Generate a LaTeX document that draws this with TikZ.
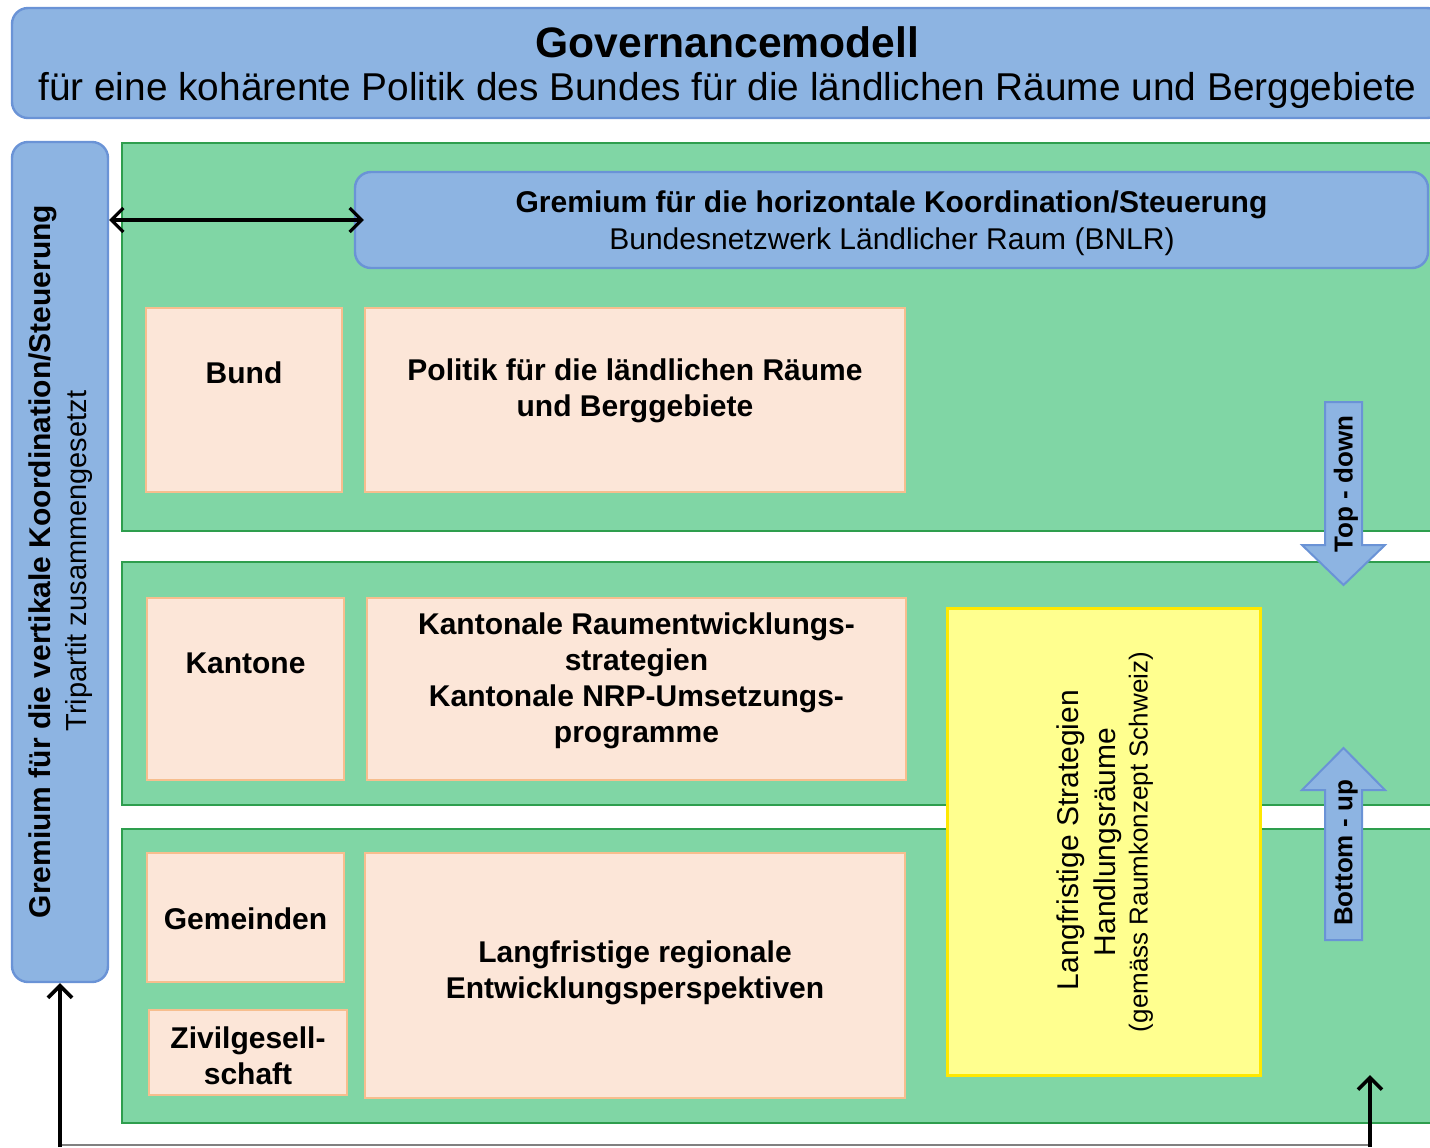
\documentclass[tikz,border=0pt]{standalone}
\usepackage{fontspec}
\setmainfont{Liberation Sans}
\usetikzlibrary{arrows.meta}
\definecolor{govblue}{HTML}{8DB4E2}
\definecolor{blueline}{HTML}{6A93D6}
\definecolor{bandgreen}{HTML}{80D6A5}
\definecolor{greenline}{HTML}{2E9E4E}
\definecolor{peachfill}{HTML}{FCE6D8}
\definecolor{peachline}{HTML}{F7BE8E}
\definecolor{yellowfill}{HTML}{FFFF8F}
\definecolor{yellowline}{HTML}{FFE800}
\begin{document}
\begin{tikzpicture}[x=0.5pt,y=-0.5pt,
  every node/.style={inner sep=0pt},
  bluebox/.style={draw=blueline, fill=govblue, line width=1.2pt, rounded corners=8pt},
  band/.style={draw=greenline, fill=bandgreen, line width=1pt},
  peach/.style={draw=peachline, fill=peachfill, line width=1.2pt},
  yellowbox/.style={draw=yellowline, fill=yellowfill, line width=1.5pt},
  bt/.style={font=\fontsize{15}{18}\selectfont\bfseries, align=center},
  rt/.style={font=\fontsize{15}{18}\selectfont, align=center},
  link/.style={-{Straight Barb[length=6pt,width=12pt,line width=1.8pt]}, line width=1.8pt},
  dbl/.style={{Straight Barb[length=6pt,width=12pt,line width=1.6pt]}-{Straight Barb[length=6pt,width=12pt,line width=1.6pt]}, line width=1.6pt}]
\useasboundingbox (0,0) rectangle (1430,1147);
\clip (0,0) rectangle (1430,1147);
\node[bluebox, minimum width=715.5pt, minimum height=55pt] (head) at (727.5,63) {};
\node[font=\fontsize{21.3}{24}\selectfont\bfseries] (headtitle) at (727.5,42) {Governancemodell};
\node[font=\fontsize{19.4}{22}\selectfont] (headsub) at (727.5,90) {für eine kohärente Politik des Bundes für die ländlichen Räume und Berggebiete};
\node[band, minimum width=661.5pt, minimum height=194pt] (bandbund) at (783.5,337) {};
\node[band, minimum width=661.5pt, minimum height=121.5pt] (bandkanton) at (783.5,683.5) {};
\node[band, minimum width=661.5pt, minimum height=147pt] (bandgemeinde) at (783.5,976) {};
\node[bluebox, minimum width=48pt, minimum height=420pt] (vert) at (60,562) {};
\node[bt, rotate=90] (verttitle) at (43,561.5) {Gremium für die vertikale Koordination/Steuerung};
\node[font=\fontsize{14.5}{17}\selectfont, rotate=90] (vertsub) at (79,561) {Tripartit zusammengesetzt};
\node[bluebox, minimum width=536.5pt, minimum height=48pt] (horiz) at (891.5,220) {};
\node[bt] (horiztitle) at (891.5,205) {Gremium für die horizontale Koordination/Steuerung};
\node[rt] (horizsub) at (892,242) {Bundesnetzwerk Ländlicher Raum (BNLR)};
\draw[dbl, shorten >=-5pt] (vert.east |- horiz.west) -- (horiz.west);
\node[peach, minimum width=98pt, minimum height=92pt] (bund) at (244,400) {};
\node[bt] (bundlbl) at (244,373) {Bund};
\node[peach, minimum width=270pt, minimum height=92pt] (politik) at (635,400) {};
\node[bt] (politiklbl) at (635,391) {Politik für die ländlichen Räume\\und Berggebiete};
\node[peach, minimum width=98.5pt, minimum height=91pt] (kantone) at (245.5,689) {};
\node[bt] (kantonelbl) at (245.5,663) {Kantone};
\node[peach, minimum width=269.5pt, minimum height=91pt] (kantonal) at (636.5,689) {};
\node[bt] (kantonallbl) at (636.5,681) {Kantonale Raumentwicklungs-\\strategien\\Kantonale NRP-Umsetzungs-\\programme};
\node[peach, minimum width=98.5pt, minimum height=64.5pt] (gemeinden) at (245.5,917.5) {};
\node[bt] (gemeindenlbl) at (245.5,919) {Gemeinden};
\node[peach, minimum width=99pt, minimum height=42.5pt] (zivil) at (248,1052.5) {};
\node[bt] (zivillbl) at (248,1056) {Zivilgesell-\\schaft};
\node[peach, minimum width=270pt, minimum height=122.5pt] (regional) at (635,975.5) {};
\node[bt] (regionallbl) at (635,973) {Langfristige regionale\\Entwicklungsperspektiven};
\node[yellowbox, minimum width=156.5pt, minimum height=233.5pt] (raeume) at (1103.5,841.5) {};
\node[rt, rotate=90] (raeumelbl) at (1071,840) {Langfristige Strategien};
\node[rt, rotate=90] (raeumesub) at (1108,842) {Handlungsräume};
\node[font=\fontsize{13}{15}\selectfont, rotate=90] (raeumenote) at (1141,842) {(gemäss Raumkonzept Schweiz)};
\draw[draw=blueline, fill=govblue, line width=1pt] (1325,402) -- (1362,402) -- (1362,545) -- (1385,545) -- (1343.5,585) -- (1302,545) -- (1325,545) -- cycle;
\node[font=\fontsize{13}{15}\selectfont\bfseries, rotate=90] (topdown) at (1346,484) {Top - down};
\draw[draw=blueline, fill=govblue, line width=1pt] (1325,940) -- (1362,940) -- (1362,790) -- (1385,790) -- (1343.5,748) -- (1302,790) -- (1325,790) -- cycle;
\node[font=\fontsize{13}{15}\selectfont\bfseries, rotate=90] (bottomup) at (1346,853) {Bottom - up};
\coordinate (bl) at (60,1147);
\coordinate (br) at (1370,1147);
\coordinate (upend) at (1370,1075);
\draw[gray, line width=0.8pt] (60,1145) -- (1370,1145);
\draw[link] (bl) -- (vert.south);
\draw[link] (br) -- (upend);
\end{tikzpicture}
\end{document}
